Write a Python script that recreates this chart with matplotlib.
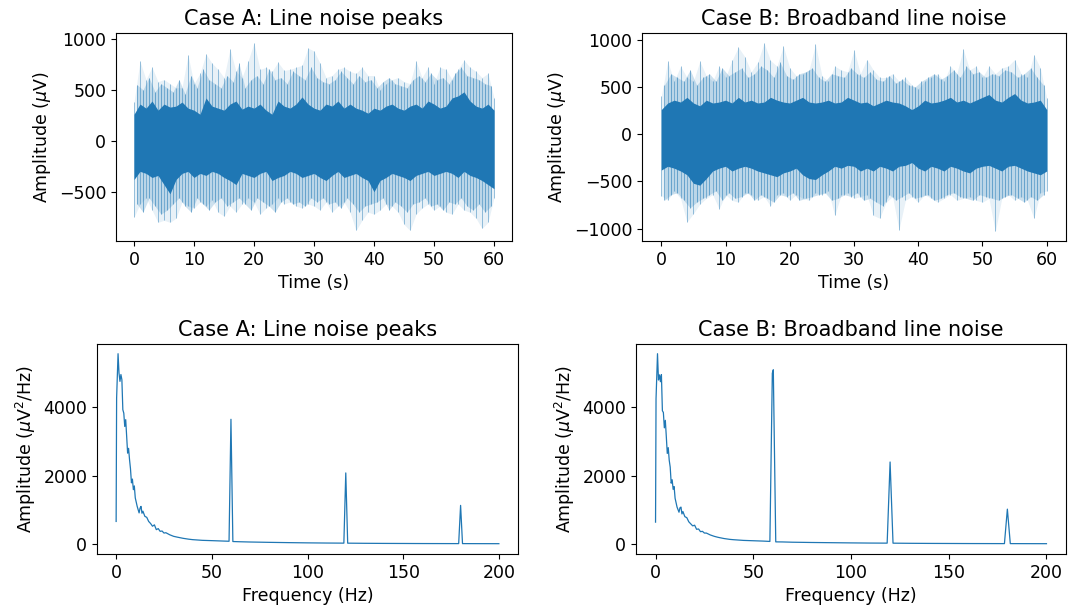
import numpy as np
import matplotlib
matplotlib.use("Agg")
import matplotlib.pyplot as plt

# ---------------- data ----------------
t_sec = list(range(0, 61))                       # whole seconds
t_half = [i + 0.5 for i in range(0, 60)]         # half-second positions

# Case A: spike peaks at whole seconds (uV)
upper_A = [380, 780, 600, 720, 580, 600, 560, 520, 520, 840, 560, 660, 850, 760, 700,
           620, 900, 680, 620, 780, 960, 700, 720, 680, 770, 690, 700, 720, 740, 910,
           880, 760, 620, 640, 700, 720, 680, 660, 720, 640, 640, 500, 560, 600, 620,
           580, 560, 780, 620, 720, 560, 720, 700, 600, 700, 790, 720, 680, 620, 660, 420]
lower_A = [-750, -620, -560, -680, -800, -780, -800, -760, -600, -640, -660, -600, -640,
           -580, -700, -740, -640, -700, -620, -560, -600, -720, -660, -620, -560, -620,
           -600, -640, -660, -620, -640, -680, -600, -700, -640, -600, -700, -880, -780,
           -700, -720, -680, -620, -640, -700, -820, -880, -720, -660, -620, -680, -640,
           -700, -720, -620, -680, -700, -760, -860, -800, -560]
# Case A: spike peaks at half seconds (uV)
upper2_A = [550, 500, 620, 480, 560, 520, 480, 600, 460, 640, 520, 700, 600, 560, 520, 640,
            580, 760, 520, 600, 640, 560, 700, 600, 620, 560, 680, 640, 600, 720, 620, 580,
            560, 600, 680, 620, 560, 640, 580, 600, 520, 580, 620, 560, 540, 520, 600, 640,
            580, 660, 600, 620, 560, 660, 720, 640, 620, 600, 560, 540]
lower2_A = [-620, -700, -560, -640, -720, -680, -620, -560, -640, -700, -560, -620, -680,
            -600, -560, -640, -600, -560, -620, -680, -560, -600, -640, -700, -600, -560,
            -620, -600, -640, -560, -600, -560, -620, -600, -660, -560, -620, -700, -640,
            -620, -600, -560, -680, -600, -640, -700, -620, -600, -560, -640, -620, -680,
            -600, -620, -560, -640, -680, -620, -700, -640]
# Case A: dense core band per second (uV)
core_hi_A = [260, 360, 320, 390, 300, 360, 330, 340, 380, 320, 300, 260, 420, 340, 320,
             300, 360, 390, 310, 340, 320, 360, 300, 260, 390, 340, 320, 360, 430, 360,
             320, 300, 360, 340, 390, 320, 360, 320, 300, 270, 320, 300, 340, 360, 320,
             300, 340, 360, 320, 390, 360, 320, 340, 420, 440, 480, 390, 340, 320, 360, 300]
core_lo_A = [-380, -300, -320, -360, -340, -430, -520, -380, -320, -300, -360, -320, -340,
             -300, -320, -360, -390, -430, -320, -340, -360, -320, -300, -390, -360, -340,
             -300, -320, -360, -340, -320, -360, -390, -340, -300, -360, -340, -320, -360,
             -390, -500, -390, -360, -320, -340, -360, -390, -340, -320, -300, -340, -320,
             -300, -320, -360, -300, -340, -360, -390, -430, -470]

# Case B
upper_B = [400, 770, 560, 720, 600, 560, 770, 620, 560, 720, 600, 780, 920, 820, 660,
           760, 965, 780, 720, 930, 700, 620, 640, 680, 950, 620, 560, 720, 680, 660,
           890, 640, 790, 680, 600, 600, 640, 560, 600, 520, 480, 560, 600, 640, 560,
           720, 640, 900, 680, 720, 600, 720, 640, 700, 720, 790, 640, 600, 840, 700, 380]
lower_B = [-650, -700, -600, -680, -930, -840, -740, -680, -640, -790, -640, -700, -720,
           -620, -640, -700, -660, -760, -640, -620, -700, -640, -680, -700, -620, -640,
           -600, -860, -640, -620, -680, -660, -640, -860, -890, -720, -660, -1010, -700,
           -660, -720, -640, -680, -720, -680, -640, -700, -680, -660, -700, -720, -680,
           -1030, -680, -640, -700, -660, -700, -890, -620, -600]
upper2_B = [520, 640, 600, 560, 680, 520, 600, 640, 560, 700, 620, 660, 700, 600, 640, 720,
            680, 600, 760, 620, 580, 640, 660, 700, 600, 560, 640, 620, 600, 700, 640, 600,
            660, 580, 560, 620, 540, 580, 520, 500, 560, 600, 640, 580, 620, 680, 600, 720,
            640, 660, 600, 640, 620, 680, 660, 600, 640, 700, 600, 520]
lower2_B = [-700, -640, -620, -700, -780, -720, -680, -640, -600, -700, -620, -680, -660,
            -620, -700, -640, -680, -720, -640, -660, -620, -700, -680, -660, -640, -620,
            -700, -680, -640, -660, -620, -700, -680, -720, -760, -640, -700, -660, -620,
            -680, -660, -640, -700, -680, -640, -620, -660, -680, -700, -640, -660, -680,
            -700, -660, -640, -680, -720, -660, -700, -640]
core_hi_B = [260, 330, 360, 340, 390, 330, 300, 360, 330, 340, 360, 330, 390, 340, 360,
             330, 340, 390, 360, 340, 330, 360, 390, 340, 330, 340, 360, 330, 340, 390,
             360, 330, 340, 300, 330, 360, 340, 330, 300, 260, 300, 360, 330, 340, 360,
             390, 340, 360, 330, 360, 390, 420, 360, 340, 390, 430, 360, 330, 340, 360, 260]
core_lo_B = [-380, -340, -360, -390, -430, -520, -540, -470, -390, -360, -340, -390, -360,
             -340, -360, -390, -410, -430, -450, -410, -390, -360, -430, -470, -480, -430,
             -390, -340, -360, -330, -340, -390, -360, -390, -340, -360, -390, -340, -330,
             -300, -360, -390, -340, -360, -390, -340, -360, -390, -410, -360, -340, -330,
             -360, -390, -340, -330, -360, -390, -410, -430, -390]

# Spectra (Hz, uV^2/Hz)
freq_A = [0, 0.25, 1, 1.5, 2, 2.5, 3, 3.5, 4, 4.5, 5, 5.5, 6, 6.5, 7, 7.5, 8, 8.5, 9, 9.5,
          10, 11, 12, 12.5, 13, 13.5, 14, 15, 16, 17, 18, 19, 20, 21, 22, 23, 24, 25, 26,
          28, 30, 32, 35, 38, 40, 45, 50, 55, 59, 60, 61, 65, 70, 80, 90, 100, 110, 119,
          120, 121, 130, 140, 150, 160, 170, 179, 180, 181, 190, 200]
psd_A = [660, 4270, 5570, 5000, 4760, 4960, 4810, 3930, 3830, 3440, 3640, 3150, 2660, 2800,
         2470, 2200, 1790, 1900, 1590, 1700, 1350, 1100, 910, 1050, 1100, 900, 960, 810,
         780, 660, 600, 520, 560, 420, 450, 370, 380, 320, 330, 270, 225, 200, 166, 140,
         127, 107, 98, 88, 80, 3650, 72, 65, 58, 48, 40, 33, 28, 25, 2080, 24, 20, 17, 15,
         13, 12, 11, 1130, 11, 10, 9]

freq_B = [0, 0.25, 1, 1.5, 2, 2.5, 3, 3.5, 4, 4.5, 5, 5.5, 6, 6.5, 7, 7.5, 8, 8.5, 9, 9.5,
          10, 11, 12, 12.5, 13, 13.5, 14, 15, 16, 17, 18, 19, 20, 21, 22, 23, 24, 25, 26,
          28, 30, 32, 35, 38, 40, 45, 50, 55, 58.5, 59.75, 60.25, 61.5, 65, 70, 80, 90,
          100, 110, 118.5, 120, 121.5, 130, 140, 150, 160, 170, 178.5, 180, 181.5, 190, 200]
psd_B = [640, 4250, 5570, 4800, 4950, 4750, 4960, 3900, 3850, 3400, 3620, 3150, 2650, 2820,
         2450, 2250, 1780, 1880, 1600, 1680, 1340, 1080, 930, 1060, 1080, 880, 950, 800,
         770, 650, 590, 530, 550, 430, 440, 360, 370, 320, 320, 265, 225, 195, 160, 135,
         125, 105, 95, 85, 75, 5000, 5100, 62, 60, 52, 44, 38, 32, 27, 25, 2400, 24, 20,
         17, 15, 13, 12, 11, 1020, 11, 10, 9]

time_ticks = [0, 10, 20, 30, 40, 50, 60]
freq_ticks = [0, 50, 100, 150, 200]
titles = ["Case A: Line noise peaks", "Case B: Broadband line noise"]

# ---------------- figure ----------------
W, H = 1068, 615
fig = plt.figure(figsize=(W / 100, H / 100), dpi=100)
plt.rcParams['font.family'] = ['DejaVu Sans']
FS = 12.5
TFS = 15
C = "#1f77b4"


def ax_at(l, t, r, b):
    return fig.add_axes([l / W, 1 - b / H, (r - l) / W, (b - t) / H])


def draw_time(ax, up, lo, up2, lo2, chi, clo, ylim, yticks, title):
    ax.fill_between(t_sec, lo, up, color=C, alpha=0.10, lw=0)
    ax.fill_between(t_half, lo2, up2, color=C, alpha=0.22, lw=0)
    ax.vlines(t_sec, lo, up, color=C, alpha=0.45, lw=0.7)
    ax.vlines(t_half, lo2, up2, color=C, alpha=0.55, lw=0.7)
    ax.fill_between(t_sec, clo, chi, color=C, lw=0)
    ax.set_xlim(-3, 63)
    ax.set_ylim(*ylim)
    ax.set_xticks(time_ticks)
    ax.set_yticks(yticks)
    ax.set_xlabel("Time (s)", fontsize=FS)
    ax.set_ylabel("Amplitude ($\\mu$V)", fontsize=FS)
    ax.set_title(title, fontsize=TFS)
    ax.tick_params(labelsize=FS)


def draw_psd(ax, f, p, title):
    ax.plot(f, p, color=C, lw=0.9)
    ax.set_xlim(-10, 210)
    ax.set_ylim(-293, 5854)
    ax.set_xticks(freq_ticks)
    ax.set_yticks([0, 2000, 4000])
    ax.set_xlabel("Frequency (Hz)", fontsize=FS)
    ax.set_ylabel("Amplitude ($\\mu$V$^2$/Hz)", fontsize=FS)
    ax.set_title(title, fontsize=TFS)
    ax.tick_params(labelsize=FS)


a1 = ax_at(116, 33, 512, 241)
draw_time(a1, upper_A, lower_A, upper2_A, lower2_A, core_hi_A, core_lo_A,
          (-983, 1057), [-500, 0, 500, 1000], titles[0])
a2 = ax_at(642, 33, 1066, 241)
draw_time(a2, upper_B, lower_B, upper2_B, lower2_B, core_hi_B, core_lo_B,
          (-1131, 1071), [-1000, -500, 0, 500, 1000], titles[1])
a3 = ax_at(97, 344, 518, 554)
draw_psd(a3, freq_A, psd_A, titles[0])
a4 = ax_at(636, 344, 1066, 554)
draw_psd(a4, freq_B, psd_B, titles[1])

fig.savefig("out.png", dpi=100)
